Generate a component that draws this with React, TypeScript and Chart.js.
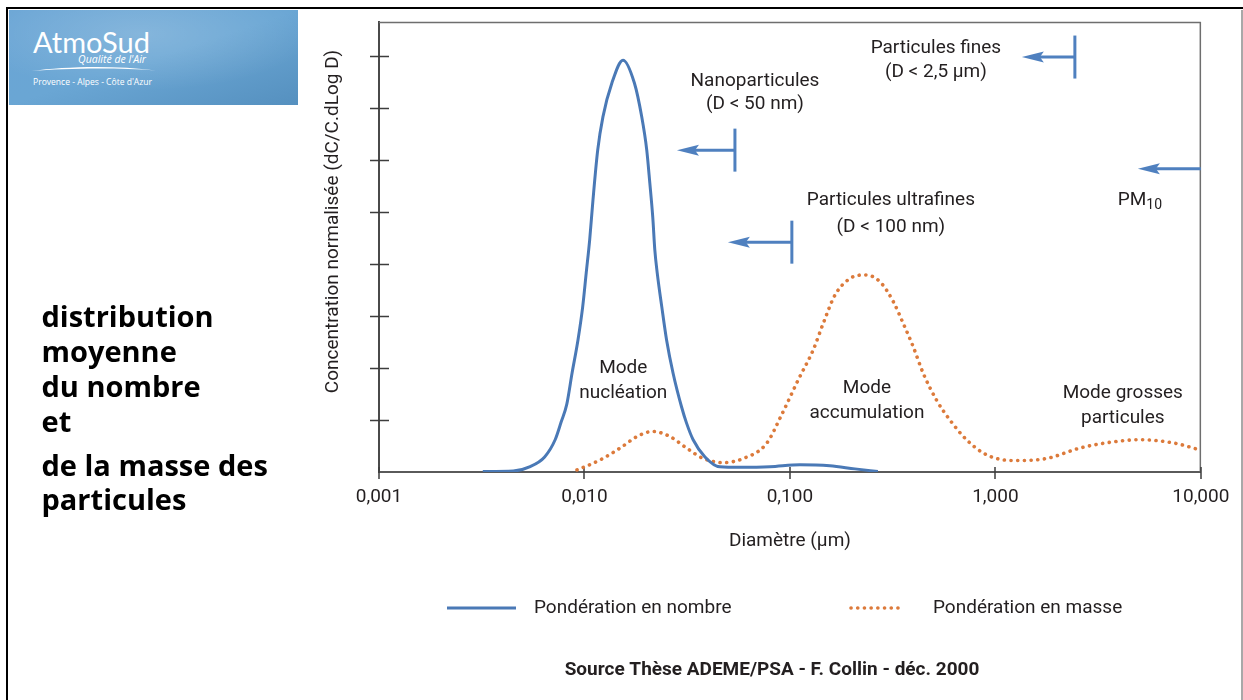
import React, { useEffect, useRef } from 'react';
import { Chart, registerables } from 'chart.js';

Chart.register(...registerables);

// ---- data (diameter in µm, normalised concentration) ----
const numberX = [0.0032, 0.0045, 0.0054, 0.0064, 0.0072, 0.0077, 0.0082, 0.0087, 0.0093, 0.0098, 0.0102, 0.0106, 0.011, 0.0116, 0.0123, 0.0136, 0.0154, 0.0175, 0.019, 0.0201, 0.0208, 0.0215, 0.022, 0.0226, 0.0238, 0.0251, 0.027, 0.0297, 0.0314, 0.0338, 0.0386, 0.0456, 0.0571, 0.0799, 0.1119, 0.1565, 0.2072, 0.2681];
const numberY = [0.01, 0.02, 0.1, 0.29, 0.62, 0.96, 1.3, 1.9, 2.54, 3.17, 3.83, 4.46, 5.23, 6.19, 6.83, 7.48, 7.92, 7.48, 6.83, 6.19, 5.56, 4.9, 4.27, 3.83, 3.17, 2.54, 1.9, 1.25, 0.94, 0.62, 0.29, 0.1, 0.09, 0.1, 0.14, 0.12, 0.06, 0.01];
const massX = [0.0092, 0.0119, 0.0149, 0.018, 0.0215, 0.0261, 0.0314, 0.0379, 0.0474, 0.0593, 0.077, 0.0911, 0.1097, 0.1299, 0.1453, 0.1656, 0.1958, 0.2317, 0.2742, 0.3182, 0.3558, 0.3981, 0.4453, 0.5175, 0.6006, 0.7242, 0.9061, 1.221, 1.775, 2.577, 3.743, 5.05, 7.332, 10];
const massY = [0.04, 0.23, 0.46, 0.68, 0.78, 0.68, 0.46, 0.26, 0.18, 0.26, 0.55, 1.1, 1.77, 2.35, 2.86, 3.4, 3.72, 3.79, 3.66, 3.28, 2.86, 2.41, 1.9, 1.38, 1.0, 0.62, 0.33, 0.22, 0.26, 0.46, 0.58, 0.62, 0.56, 0.42];
const seriesLabels = ['Pondération en nombre', 'Pondération en masse'];
const xTickValues = [0.001, 0.01, 0.1, 1, 10];
const yTickValues = [1, 2, 3, 4, 5, 6, 7, 8];
const xRange = [0.001, 10];
const yRange = [0, 8.654];

// ---- annotations (data coordinates) ----
const annotationTexts = [
  { lines: ['Nanoparticules', '(D < 50 nm)'], x: 0.0676, y: [7.52, 7.08] },
  { lines: ['Particules fines', '(D < 2,5 µm)'], x: 0.5134, y: [8.15, 7.69] },
  { lines: ['Particules ultrafines', '(D < 100 nm)'], x: 0.31, y: [5.23, 4.71] },
  { lines: ['Mode', 'nucléation'], x: 0.01545, y: [2.0, 1.52] },
  { lines: ['Mode', 'accumulation'], x: 0.237, y: [1.615, 1.135] },
  { lines: ['Mode grosses', 'particules'], x: 4.17, y: [1.52, 1.04] },
];
const arrows = [
  { tip: 0.0282, end: 0.054, y: 6.19, bar: true },
  { tip: 0.0499, end: 0.1022, y: 4.42, bar: true },
  { tip: 1.3456, end: 2.4375, y: 7.98, bar: true },
  { tip: 4.938, end: 10, y: 5.83, bar: false },
];
const pm10Label = { main: 'PM', sub: '10', x: 5.05, y: 5.23 };
const yTitle = 'Concentration normalisée (dC/C.dLog D)';
const xTitle = 'Diamètre (µm)';
const sourceText = 'Source Thèse ADEME/PSA - F. Collin - déc. 2000';
const leftLines = ['distribution', 'moyenne', 'du nombre', 'et', 'de la masse des', 'particules'];

// ---- styles ----
const FONT = 'Roboto, "Noto Sans", sans-serif';
const TEXT_COLOR = '#231f20';
const BLUE = '#4a79b6';
const ORANGE = '#dc7a3b';
const ARROW_BLUE = '#4f80bf';
const legendLayout = [
  { x0: 447, x1: 516, tx: 534 },
  { x0: 851, x1: 903, tx: 933 },
];
const LEGEND_Y = 608;

const fmt = (v: number) => v.toFixed(3).replace('.', ',');

const decorPlugin = {
  id: 'decor',
  beforeDatasetsDraw(chart: any) {
    const { ctx, chartArea: a, scales } = chart;
    const xs = scales.x;
    const ys = scales.y;
    ctx.save();
    ctx.strokeStyle = '#6e6e6e';
    ctx.lineWidth = 1.5;
    ctx.beginPath();
    ctx.moveTo(a.left, a.top + 0.5);
    ctx.lineTo(a.right, a.top + 0.5);
    ctx.moveTo(a.right - 0.5, a.top);
    ctx.lineTo(a.right - 0.5, a.bottom);
    ctx.stroke();
    ctx.strokeStyle = '#3d3d3d';
    ctx.lineWidth = 1.5;
    ctx.beginPath();
    yTickValues.forEach((v) => {
      const py = Math.round(ys.getPixelForValue(v)) + 0.5;
      ctx.moveTo(a.left - 9, py);
      ctx.lineTo(a.left + 10, py);
    });
    xTickValues.forEach((v) => {
      const px = Math.round(xs.getPixelForValue(v));
      ctx.moveTo(px, a.bottom - 5);
      ctx.lineTo(px, a.bottom + 7);
    });
    ctx.stroke();
    ctx.restore();
  },
  afterDatasetsDraw(chart: any) {
    const { ctx, chartArea: a, scales } = chart;
    const xs = scales.x;
    const ys = scales.y;
    ctx.save();
    // arrows
    arrows.forEach((ar) => {
      const tip = xs.getPixelForValue(ar.tip);
      const end = Math.min(xs.getPixelForValue(ar.end), a.right);
      const py = ys.getPixelForValue(ar.y);
      ctx.strokeStyle = ARROW_BLUE;
      ctx.fillStyle = ARROW_BLUE;
      ctx.lineWidth = 3;
      ctx.beginPath();
      ctx.moveTo(tip + 14, py);
      ctx.lineTo(end, py);
      ctx.stroke();
      ctx.beginPath();
      ctx.moveTo(tip, py);
      ctx.lineTo(tip + 22, py - 5.5);
      ctx.lineTo(tip + 18, py);
      ctx.lineTo(tip + 22, py + 5.5);
      ctx.closePath();
      ctx.fill();
      if (ar.bar) {
        ctx.beginPath();
        ctx.moveTo(end, py - 21.5);
        ctx.lineTo(end, py + 21.5);
        ctx.stroke();
      }
    });
    // texts
    ctx.fillStyle = TEXT_COLOR;
    ctx.font = `19px ${FONT}`;
    ctx.textAlign = 'center';
    ctx.textBaseline = 'middle';
    annotationTexts.forEach((t) => {
      const px = xs.getPixelForValue(t.x);
      t.lines.forEach((ln, i) => ctx.fillText(ln, px, ys.getPixelForValue(t.y[i])));
    });
    // PM10
    {
      const px = xs.getPixelForValue(pm10Label.x);
      const py = ys.getPixelForValue(pm10Label.y);
      ctx.font = `19px ${FONT}`;
      const w1 = ctx.measureText(pm10Label.main).width;
      ctx.font = `14px ${FONT}`;
      const w2 = ctx.measureText(pm10Label.sub).width;
      const left = px - (w1 + w2) / 2;
      ctx.textAlign = 'left';
      ctx.font = `19px ${FONT}`;
      ctx.fillText(pm10Label.main, left, py);
      ctx.font = `14px ${FONT}`;
      ctx.fillText(pm10Label.sub, left + w1, py + 5);
    }
    // y title
    ctx.save();
    ctx.translate(333, 221.5);
    ctx.rotate(-Math.PI / 2);
    ctx.font = `19px ${FONT}`;
    ctx.textAlign = 'center';
    ctx.fillText(yTitle, 0, 0);
    ctx.restore();
    // legend
    chart.data.datasets.forEach((ds: any, i: number) => {
      const L = legendLayout[i];
      ctx.save();
      ctx.strokeStyle = ds.borderColor;
      ctx.lineWidth = ds.borderWidth;
      ctx.lineCap = ds.borderCapStyle || 'butt';
      ctx.setLineDash(ds.borderDash || []);
      ctx.beginPath();
      ctx.moveTo(L.x0, LEGEND_Y);
      ctx.lineTo(L.x1, LEGEND_Y);
      ctx.stroke();
      ctx.restore();
      ctx.fillStyle = TEXT_COLOR;
      ctx.font = `19px ${FONT}`;
      ctx.textAlign = 'left';
      ctx.textBaseline = 'middle';
      ctx.fillText(ds.label, L.tx, LEGEND_Y);
    });
    // source
    ctx.font = `bold 19px ${FONT}`;
    ctx.textAlign = 'center';
    ctx.fillText(sourceText, 772, 670);
    ctx.restore();
  },
};

export default function App() {
  const ref = useRef<HTMLCanvasElement | null>(null);
  useEffect(() => {
    if (!ref.current) return;
    const chart = new Chart(ref.current, {
      type: 'line',
      data: {
        datasets: [
          {
            label: seriesLabels[0],
            data: numberX.map((x, i) => ({ x, y: numberY[i] })),
            borderColor: BLUE,
            borderWidth: 3,
            pointRadius: 0,
            fill: false,
            cubicInterpolationMode: 'monotone',
          },
          {
            label: seriesLabels[1],
            data: massX.map((x, i) => ({ x, y: massY[i] })),
            borderColor: ORANGE,
            borderWidth: 3.6,
            borderDash: [0.1, 6.6],
            borderCapStyle: 'round',
            pointRadius: 0,
            fill: false,
            cubicInterpolationMode: 'monotone',
          },
        ],
      },
      options: {
        responsive: false,
        animation: false,
        layout: { padding: { left: 0, top: 22, right: 42, bottom: 147.6 } },
        plugins: { legend: { display: false }, tooltip: { enabled: false }, title: { display: false } },
        scales: {
          x: {
            type: 'logarithmic',
            min: xRange[0],
            max: xRange[1],
            afterBuildTicks: (s: any) => {
              s.ticks = xTickValues.map((v) => ({ value: v }));
            },
            afterFit: (s: any) => {
              s.height = 80.4;
            },
            ticks: {
              autoSkip: false,
              maxRotation: 0,
              padding: 13.6,
              color: TEXT_COLOR,
              font: { family: FONT, size: 19 },
              callback: (v: any) => fmt(Number(v)),
            },
            grid: { display: false, drawTicks: false },
            border: { display: true, color: '#5a5a5a', width: 2 },
            title: {
              display: true,
              text: xTitle,
              color: TEXT_COLOR,
              font: { family: FONT, size: 19 },
              padding: 0,
            },
          },
          y: {
            min: yRange[0],
            max: yRange[1],
            afterFit: (s: any) => {
              s.width = 379;
            },
            ticks: { display: false },
            grid: { display: false, drawTicks: false },
            border: { display: true, color: '#4a4a4a', width: 2 },
          },
        },
      },
      plugins: [decorPlugin],
    } as any);
    return () => chart.destroy();
  }, []);

  const baselines = [327, 362, 397, 432, 476, 510];
  return (
    <div style={{ position: 'absolute', left: 0, top: 0, width: 1243, height: 700, overflow: 'hidden', background: '#fff' }}>
      <canvas ref={ref} width={1243} height={700} style={{ position: 'absolute', left: 0, top: 0, width: 1243, height: 700 }} />
      <div style={{ position: 'absolute', left: 7, top: 7, width: 1236, height: 2, background: '#000' }} />
      <div style={{ position: 'absolute', left: 6, top: 7, width: 2, height: 693, background: '#000' }} />
      <div style={{ position: 'absolute', left: 1241, top: 10, width: 2, height: 690, background: '#a8a8a8' }} />
      <svg width={289} height={95} style={{ position: 'absolute', left: 9, top: 10 }}>
        <defs>
          <linearGradient id="lg" x1="0" y1="0" x2="1" y2="1">
            <stop offset="0" stopColor="#6aa5d5" />
            <stop offset="0.5" stopColor="#6aa6d4" />
            <stop offset="1" stopColor="#5590bf" />
          </linearGradient>
          <radialGradient id="rg" cx="0.45" cy="0.25" r="0.6">
            <stop offset="0" stopColor="#ffffff" stopOpacity="0.18" />
            <stop offset="1" stopColor="#ffffff" stopOpacity="0" />
          </radialGradient>
        </defs>
        <rect x={0} y={0} width={289} height={95} fill="url(#lg)" />
        <rect x={0} y={0} width={289} height={95} fill="url(#rg)" />
        <text x={24} y={43.3} fill="#fff" fontFamily="Lato, 'Open Sans', sans-serif" fontSize={29}>AtmoSud</text>
        <text x={137} y={53} fill="#fff" fontFamily="'Open Sans', sans-serif" fontStyle="italic" fontSize={10.5} textAnchor="end">Qualité de l'Air</text>
        <path d="M22.5 61 C55 56.5 105 55 147 60.5 C105 57.3 55 58.5 22.5 61 Z" fill="#fff" />
        <text x={24} y={74.5} fill="#fff" fontFamily="'Open Sans', sans-serif" fontSize={8.6} textLength={119} lengthAdjust="spacingAndGlyphs">Provence - Alpes - Côte d'Azur</text>
      </svg>
      <svg width={297} height={700} style={{ position: 'absolute', left: 0, top: 0 }}>
        {leftLines.map((t, i) => (
          <text key={i} x={41.5} y={baselines[i]} fill="#000" fontFamily="'Open Sans', sans-serif" fontWeight={700} fontSize={29}>{t}</text>
        ))}
      </svg>
    </div>
  );
}
